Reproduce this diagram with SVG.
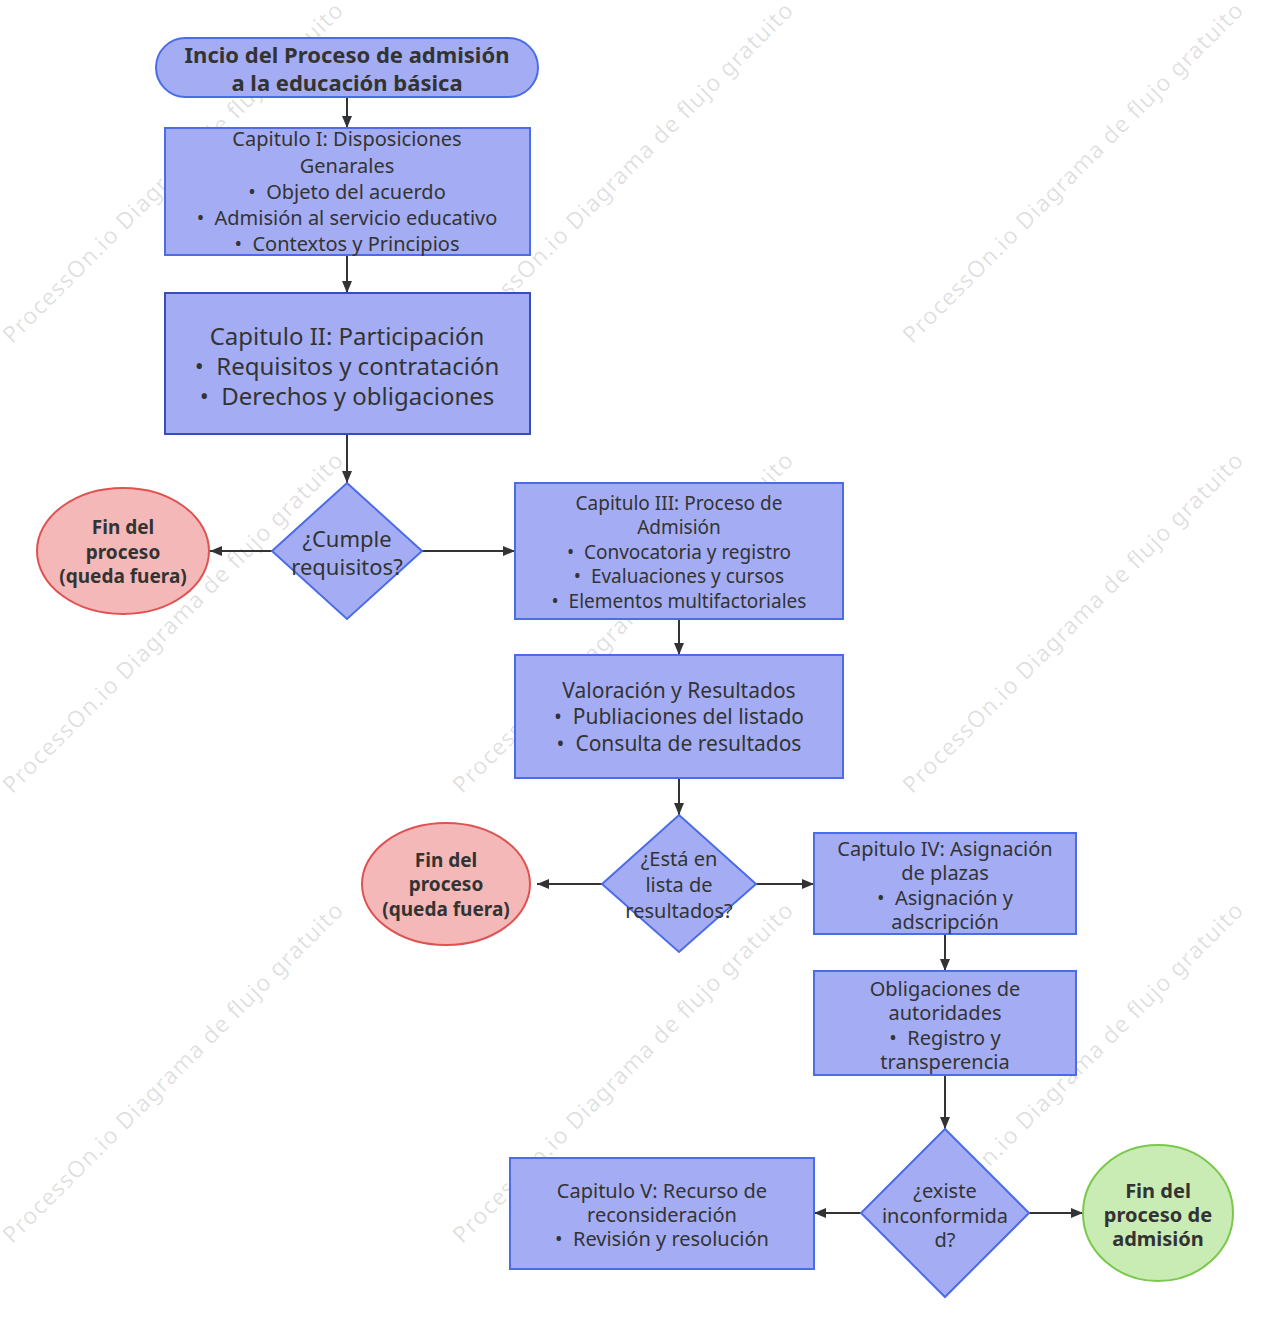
<svg xmlns="http://www.w3.org/2000/svg" width="1270" height="1334" viewBox="0 0 1270 1334">
<style>
text{font-family:"Noto Sans","Open Sans",sans-serif;fill:#333;text-anchor:middle;dominant-baseline:central}
.n{fill:#a4adf3;stroke:#4b6ce8;stroke-width:2}
.red{fill:#f4b8b8;stroke:#e05252;stroke-width:2}
.grn{fill:#c9ecb4;stroke:#7ac84c;stroke-width:2}
.b{font-weight:bold}
.e{stroke:#333;stroke-width:2;fill:none;marker-end:url(#ah)}
.wm{font-size:23px;fill:#000;fill-opacity:0.13}
</style>
<defs>
<marker id="ah" viewBox="0 0 12 10" refX="12" refY="5" markerWidth="12" markerHeight="10" markerUnits="userSpaceOnUse" orient="auto"><path d="M0,0L12,5L0,10z" fill="#333"/></marker>
</defs>
<rect width="1270" height="1334" fill="#fff"/>
<g id="watermark">
<text class="wm" x="172" y="172" textLength="470" transform="rotate(-45 172 172)">ProcessOn.io Diagrama de flujo gratuito</text>
<text class="wm" x="622" y="172" textLength="470" transform="rotate(-45 622 172)">ProcessOn.io Diagrama de flujo gratuito</text>
<text class="wm" x="1072" y="172" textLength="470" transform="rotate(-45 1072 172)">ProcessOn.io Diagrama de flujo gratuito</text>
<text class="wm" x="172" y="622" textLength="470" transform="rotate(-45 172 622)">ProcessOn.io Diagrama de flujo gratuito</text>
<text class="wm" x="622" y="622" textLength="470" transform="rotate(-45 622 622)">ProcessOn.io Diagrama de flujo gratuito</text>
<text class="wm" x="1072" y="622" textLength="470" transform="rotate(-45 1072 622)">ProcessOn.io Diagrama de flujo gratuito</text>
<text class="wm" x="172" y="1072" textLength="470" transform="rotate(-45 172 1072)">ProcessOn.io Diagrama de flujo gratuito</text>
<text class="wm" x="622" y="1072" textLength="470" transform="rotate(-45 622 1072)">ProcessOn.io Diagrama de flujo gratuito</text>
<text class="wm" x="1072" y="1072" textLength="470" transform="rotate(-45 1072 1072)">ProcessOn.io Diagrama de flujo gratuito</text>
</g>
<g id="connectors">
<line class="e" x1="347" y1="97" x2="347" y2="128"/>
<line class="e" x1="347" y1="255" x2="347" y2="293"/>
<line class="e" x1="347" y1="434" x2="347" y2="483"/>
<line class="e" x1="272" y1="551" x2="210" y2="551"/>
<line class="e" x1="422" y1="551" x2="515" y2="551"/>
<line class="e" x1="679" y1="619" x2="679" y2="655"/>
<line class="e" x1="679" y1="778" x2="679" y2="815"/>
<line class="e" x1="602" y1="884" x2="537" y2="884"/>
<line class="e" x1="756" y1="884" x2="814" y2="884"/>
<line class="e" x1="945" y1="934" x2="945" y2="971"/>
<line class="e" x1="945" y1="1075" x2="945" y2="1129"/>
<line class="e" x1="861" y1="1213" x2="814" y2="1213"/>
<line class="e" x1="1029" y1="1213" x2="1083" y2="1213"/>
</g>
<g id="start">
<rect class="n" x="156" y="38" width="382" height="59" rx="29.5"/>
<text class="b" font-size="22"><tspan x="347" y="54">Incio del Proceso de admisión</tspan><tspan x="347" y="82">a la educación básica</tspan></text>
</g>
<g id="cap1">
<rect class="n" x="165" y="128" width="365" height="127"/>
<text font-size="20"><tspan x="347" y="138">Capitulo I: Disposiciones</tspan><tspan x="347" y="165">Genarales</tspan><tspan x="347" y="191">•&#160;&#160;Objeto del acuerdo</tspan><tspan x="347" y="217">•&#160;&#160;Admisión al servicio educativo</tspan><tspan x="347" y="243">•&#160;&#160;Contextos y Principios</tspan></text>
</g>
<g id="cap2">
<rect x="165" y="293" width="365" height="141" fill="#a4adf3" stroke="#3550b5" stroke-width="2"/>
<text font-size="24"><tspan x="347" y="335">Capitulo II: Participación</tspan><tspan x="347" y="365">•&#160;&#160;Requisitos y contratación</tspan><tspan x="347" y="395">•&#160;&#160;Derechos y obligaciones</tspan></text>
</g>
<g id="dec1">
<polygon class="n" points="347,483 422,551 347,619 272,551"/>
<text font-size="22"><tspan x="347" y="538">¿Cumple</tspan><tspan x="347" y="566">requisitos?</tspan></text>
</g>
<g id="fin1">
<ellipse class="red" cx="123" cy="551" rx="86" ry="63"/>
<text class="b" font-size="19"><tspan x="123" y="527">Fin del</tspan><tspan x="123" y="552">proceso</tspan><tspan x="123" y="576">(queda fuera)</tspan></text>
</g>
<g id="cap3">
<rect class="n" x="515" y="483" width="328" height="136"/>
<text font-size="19"><tspan x="679" y="503">Capitulo III: Proceso de</tspan><tspan x="679" y="527">Admisión</tspan><tspan x="679" y="552">•&#160;&#160;Convocatoria y registro</tspan><tspan x="679" y="576">•&#160;&#160;Evaluaciones y cursos</tspan><tspan x="679" y="601">•&#160;&#160;Elementos multifactoriales</tspan></text>
</g>
<g id="valoracion">
<rect class="n" x="515" y="655" width="328" height="123"/>
<text font-size="21"><tspan x="679" y="690">Valoración y Resultados</tspan><tspan x="679" y="716">•&#160;&#160;Publiaciones del listado</tspan><tspan x="679" y="743">•&#160;&#160;Consulta de resultados</tspan></text>
</g>
<g id="dec2">
<polygon class="n" points="679,815 756,884 679,952 602,884"/>
<text font-size="20"><tspan x="679" y="858">¿Está en</tspan><tspan x="679" y="884">lista de</tspan><tspan x="679" y="910">resultados?</tspan></text>
</g>
<g id="fin2">
<ellipse class="red" cx="446" cy="884" rx="84" ry="61"/>
<text class="b" font-size="19"><tspan x="446" y="860">Fin del</tspan><tspan x="446" y="884">proceso</tspan><tspan x="446" y="909">(queda fuera)</tspan></text>
</g>
<g id="cap4">
<rect class="n" x="814" y="833" width="262" height="101"/>
<text font-size="20"><tspan x="945" y="848">Capitulo IV: Asignación</tspan><tspan x="945" y="872">de plazas</tspan><tspan x="945" y="897">•&#160;&#160;Asignación y</tspan><tspan x="945" y="921">adscripción</tspan></text>
</g>
<g id="obligaciones">
<rect class="n" x="814" y="971" width="262" height="104"/>
<text font-size="20"><tspan x="945" y="988">Obligaciones de</tspan><tspan x="945" y="1012">autoridades</tspan><tspan x="945" y="1037">•&#160;&#160;Registro y</tspan><tspan x="945" y="1061">transperencia</tspan></text>
</g>
<g id="dec3">
<polygon class="n" points="945,1129 1029,1213 945,1297 861,1213"/>
<text font-size="20"><tspan x="945" y="1190">¿existe</tspan><tspan x="945" y="1215">inconformida</tspan><tspan x="945" y="1239">d?</tspan></text>
</g>
<g id="cap5">
<rect class="n" x="510" y="1158" width="304" height="111"/>
<text font-size="20"><tspan x="662" y="1190">Capitulo V: Recurso de</tspan><tspan x="662" y="1214">reconsideración</tspan><tspan x="662" y="1238">•&#160;&#160;Revisión y resolución</tspan></text>
</g>
<g id="fin3">
<ellipse class="grn" cx="1158" cy="1213" rx="75" ry="68"/>
<text class="b" font-size="20"><tspan x="1158" y="1190">Fin del</tspan><tspan x="1158" y="1214">proceso de</tspan><tspan x="1158" y="1238">admisión</tspan></text>
</g>
</svg>
